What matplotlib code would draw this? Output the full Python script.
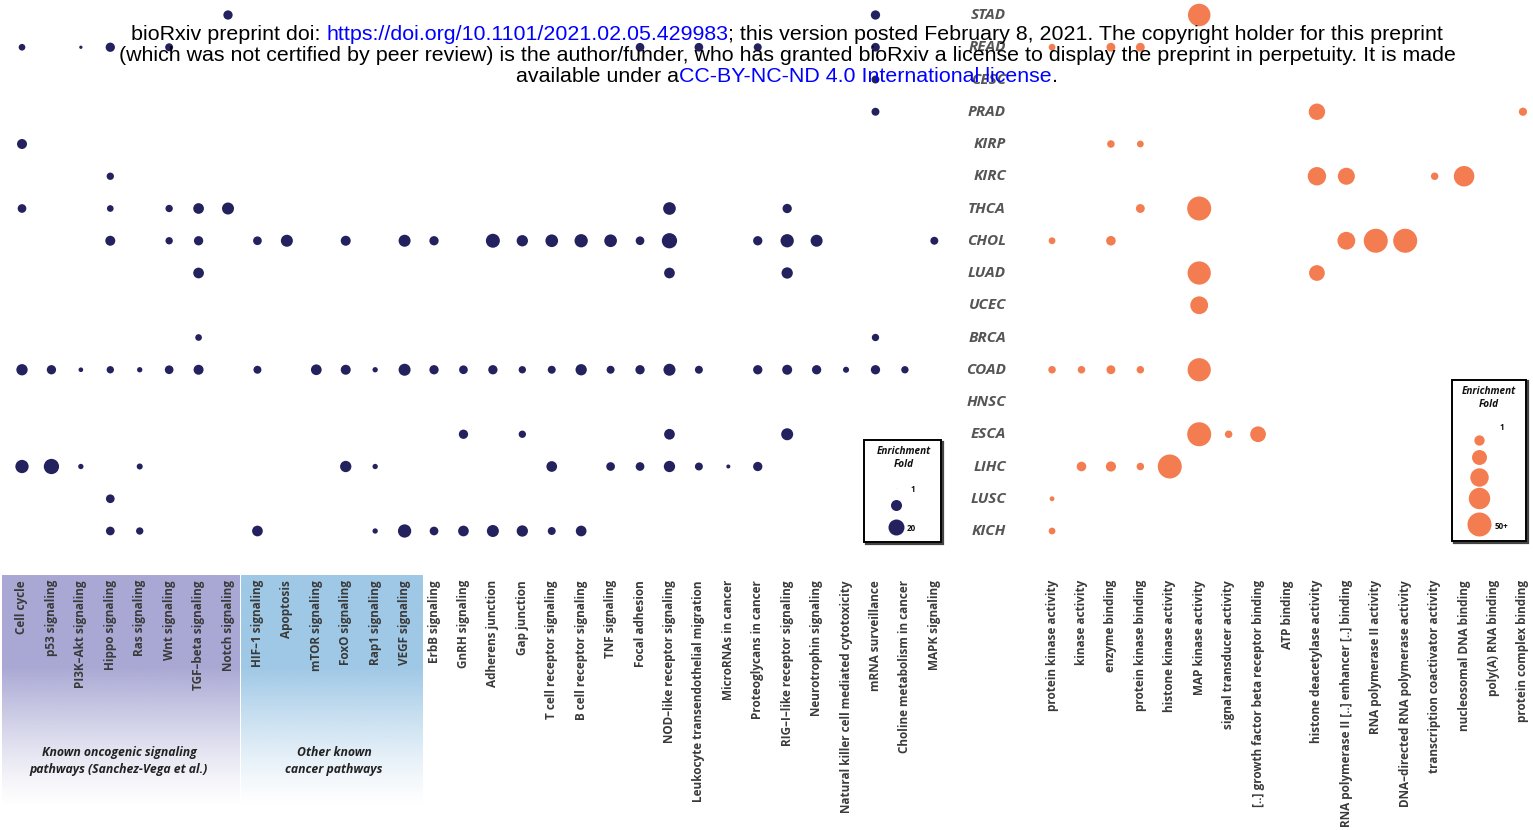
import matplotlib
matplotlib.use("Agg")
import matplotlib.pyplot as plt
import matplotlib.colors as mcolors
from matplotlib.patches import Rectangle
import numpy as np

# ---------------- data ----------------
cancers = ["STAD", "READ", "CESC", "PRAD", "KIRP", "KIRC", "THCA", "CHOL", "LUAD",
           "UCEC", "BRCA", "COAD", "HNSC", "ESCA", "LIHC", "LUSC", "KICH"]

pathways = ["Cell cycle", "p53 signaling", "PI3K–Akt signaling", "Hippo signaling",
            "Ras signaling", "Wnt signaling", "TGF–beta signaling", "Notch signaling",
            "HIF–1 signaling", "Apoptosis", "mTOR signaling", "FoxO signaling",
            "Rap1 signaling", "VEGF signaling", "ErbB signaling", "GnRH signaling",
            "Adherens junction", "Gap junction", "T cell receptor signaling",
            "B cell receptor signaling", "TNF signaling", "Focal adhesion",
            "NOD–like receptor signaling", "Leukocyte transendothelial migration",
            "MicroRNAs in cancer", "Proteoglycans in cancer", "RIG–I–like receptor signaling",
            "Neurotrophin signaling", "Natural killer cell mediated cytotoxicity",
            "mRNA surveillance", "Choline metabolism in cancer", "MAPK signaling"]

go_terms = ["protein kinase activity", "kinase activity", "enzyme binding",
            "protein kinase binding", "histone kinase activity", "MAP kinase activity",
            "signal transducer activity", "[..] growth factor beta receptor binding",
            "ATP binding", "histone deacetylase activity",
            "RNA polymerase II [..] enhancer [..] binding", "RNA polymerase II activity",
            "DNA–directed RNA polymerase activity", "transcription coactivator activity",
            "nucleosomal DNA binding", "poly(A) RNA binding", "protein complex binding"]

# (cancer, pathway, enrichment fold)
pathway_hits = [
    ("STAD", "Notch signaling", 7.4), ("STAD", "mRNA surveillance", 7.4),
    ("READ", "Cell cycle", 4.3), ("READ", "PI3K–Akt signaling", 1.8), ("READ", "Hippo signaling", 7.4),
    ("READ", "Wnt signaling", 5.7), ("READ", "Focal adhesion", 6.6),
    ("READ", "Leukocyte transendothelial migration", 6.6), ("READ", "Proteoglycans in cancer", 5.7),
    ("READ", "mRNA surveillance", 6.6),
    ("CESC", "mRNA surveillance", 5.7),
    ("PRAD", "mRNA surveillance", 5.7),
    ("KIRP", "Cell cycle", 8.4),
    ("KIRC", "Hippo signaling", 5.0),
    ("THCA", "Cell cycle", 6.6), ("THCA", "Hippo signaling", 4.3), ("THCA", "Wnt signaling", 5.0),
    ("THCA", "TGF–beta signaling", 9.5), ("THCA", "Notch signaling", 11.7),
    ("THCA", "NOD–like receptor signaling", 12.9), ("THCA", "RIG–I–like receptor signaling", 7.4),
    ("CHOL", "Hippo signaling", 8.4), ("CHOL", "Wnt signaling", 5.0), ("CHOL", "TGF–beta signaling", 7.4),
    ("CHOL", "HIF–1 signaling", 6.6), ("CHOL", "Apoptosis", 11.7), ("CHOL", "FoxO signaling", 8.4),
    ("CHOL", "VEGF signaling", 11.7), ("CHOL", "ErbB signaling", 7.4), ("CHOL", "Adherens junction", 15.5),
    ("CHOL", "Gap junction", 10.5), ("CHOL", "T cell receptor signaling", 12.9),
    ("CHOL", "B cell receptor signaling", 14.1), ("CHOL", "TNF signaling", 12.9),
    ("CHOL", "Focal adhesion", 6.6), ("CHOL", "NOD–like receptor signaling", 18.3),
    ("CHOL", "Proteoglycans in cancer", 7.4), ("CHOL", "RIG–I–like receptor signaling", 14.1),
    ("CHOL", "Neurotrophin signaling", 11.7), ("CHOL", "MAPK signaling", 5.7),
    ("LUAD", "TGF–beta signaling", 9.5), ("LUAD", "NOD–like receptor signaling", 9.5),
    ("LUAD", "RIG–I–like receptor signaling", 10.5),
    ("BRCA", "TGF–beta signaling", 4.3), ("BRCA", "mRNA surveillance", 5.0),
    ("COAD", "Cell cycle", 10.5), ("COAD", "p53 signaling", 7.4), ("COAD", "PI3K–Akt signaling", 2.6),
    ("COAD", "Hippo signaling", 5.0), ("COAD", "Ras signaling", 3.1), ("COAD", "Wnt signaling", 6.6),
    ("COAD", "TGF–beta signaling", 8.4), ("COAD", "HIF–1 signaling", 5.7), ("COAD", "mTOR signaling", 9.5),
    ("COAD", "FoxO signaling", 8.4), ("COAD", "Rap1 signaling", 3.1), ("COAD", "VEGF signaling", 11.7),
    ("COAD", "ErbB signaling", 7.4), ("COAD", "GnRH signaling", 6.6), ("COAD", "Adherens junction", 7.4),
    ("COAD", "Gap junction", 5.0), ("COAD", "T cell receptor signaling", 5.7),
    ("COAD", "B cell receptor signaling", 10.5), ("COAD", "TNF signaling", 5.7),
    ("COAD", "Focal adhesion", 7.4), ("COAD", "NOD–like receptor signaling", 11.7),
    ("COAD", "Leukocyte transendothelial migration", 5.7), ("COAD", "Proteoglycans in cancer", 7.4),
    ("COAD", "RIG–I–like receptor signaling", 8.4), ("COAD", "Neurotrophin signaling", 7.4),
    ("COAD", "Natural killer cell mediated cytotoxicity", 3.7), ("COAD", "mRNA surveillance", 7.4),
    ("COAD", "Choline metabolism in cancer", 5.0),
    ("ESCA", "GnRH signaling", 7.4), ("ESCA", "Gap junction", 5.0),
    ("ESCA", "NOD–like receptor signaling", 9.5), ("ESCA", "RIG–I–like receptor signaling", 11.7),
    ("LIHC", "Cell cycle", 14.1), ("LIHC", "p53 signaling", 18.3), ("LIHC", "PI3K–Akt signaling", 3.1),
    ("LIHC", "Ras signaling", 3.7), ("LIHC", "FoxO signaling", 10.5), ("LIHC", "Rap1 signaling", 3.1),
    ("LIHC", "T cell receptor signaling", 9.5), ("LIHC", "TNF signaling", 6.6),
    ("LIHC", "Focal adhesion", 6.6), ("LIHC", "NOD–like receptor signaling", 10.5),
    ("LIHC", "Leukocyte transendothelial migration", 5.7), ("LIHC", "MicroRNAs in cancer", 2.2),
    ("LIHC", "Proteoglycans in cancer", 7.4),
    ("LUSC", "Hippo signaling", 6.6),
    ("KICH", "Hippo signaling", 6.6), ("KICH", "Ras signaling", 5.0), ("KICH", "HIF–1 signaling", 9.5),
    ("KICH", "Rap1 signaling", 3.1), ("KICH", "VEGF signaling", 14.1), ("KICH", "ErbB signaling", 6.6),
    ("KICH", "GnRH signaling", 9.5), ("KICH", "Adherens junction", 11.7), ("KICH", "Gap junction", 10.5),
    ("KICH", "T cell receptor signaling", 5.7), ("KICH", "B cell receptor signaling", 9.5),
]

# (cancer, GO term, enrichment fold)
go_hits = [
    ("STAD", "MAP kinase activity", 44),
    ("READ", "protein kinase activity", 4.9), ("READ", "enzyme binding", 7.7),
    ("READ", "protein kinase binding", 7.7),
    ("PRAD", "histone deacetylase activity", 23.9), ("PRAD", "protein complex binding", 6.7),
    ("KIRP", "enzyme binding", 5.8), ("KIRP", "protein kinase binding", 4.9),
    ("KIRC", "histone deacetylase activity", 29.8),
    ("KIRC", "RNA polymerase II [..] enhancer [..] binding", 25.6),
    ("KIRC", "transcription coactivator activity", 5.8), ("KIRC", "nucleosomal DNA binding", 36.7),
    ("THCA", "protein kinase binding", 7.7), ("THCA", "MAP kinase activity", 52),
    ("CHOL", "protein kinase activity", 4.9), ("CHOL", "enzyme binding", 8.8),
    ("CHOL", "RNA polymerase II [..] enhancer [..] binding", 28),
    ("CHOL", "RNA polymerase II activity", 52), ("CHOL", "DNA–directed RNA polymerase activity", 50),
    ("LUAD", "MAP kinase activity", 46.8), ("LUAD", "histone deacetylase activity", 22),
    ("UCEC", "MAP kinase activity", 28),
    ("COAD", "protein kinase activity", 5.8), ("COAD", "kinase activity", 5.8),
    ("COAD", "enzyme binding", 7.7), ("COAD", "protein kinase binding", 5.8),
    ("COAD", "MAP kinase activity", 46.8),
    ("ESCA", "MAP kinase activity", 52), ("ESCA", "signal transducer activity", 5.8),
    ("ESCA", "[..] growth factor beta receptor binding", 22),
    ("LIHC", "kinase activity", 8.8), ("LIHC", "enzyme binding", 9.8),
    ("LIHC", "protein kinase binding", 5.8), ("LIHC", "histone kinase activity", 52),
    ("LUSC", "protein kinase activity", 3.0),
    ("KICH", "protein kinase activity", 4.9),
]

navy_legend_vals = [1, 10, 20]
navy_legend_text = ["1", "", "20"]
orange_legend_vals = [1, 10, 20, 30, 40, 50]
orange_legend_text = ["1", "", "", "", "", "50+"]

group_labels = ["Known oncogenic signaling\npathways (Sanchez-Vega et al.)",
                "Other known\ncancer pathways"]

# ---------------- style ----------------
W, H = 1533, 830
NAVY = "#23215e"
ORANGE = "#f37d51"
LABEL_C = "#3a3a3a"
ROW_C = "#555555"
FONT = "Open Sans"


def d_navy(v):
    return 16.0 * np.sqrt(max(v - 1, 0.003) / 19.0)


def d_orange(v):
    return 24.0 * np.sqrt(max(min(v, 50) - 1, 0.003) / 49.0)


def s_of(dpx):
    return (dpx * 72.0 / 100.0) ** 2


fig = plt.figure(figsize=(W / 100, H / 100), dpi=100)

# background (gradient boxes)
bg = fig.add_axes([0, 0, 1, 1], zorder=0)
bg.axis("off")


def grad_box(x0, x1, color):
    y0, ysolid, y1 = 576, 668, 806
    ys = np.linspace(y0, y1, 400)
    alpha = np.clip((y1 - ys) / (y1 - ysolid), 0, 1) ** 1.25
    rgba = np.zeros((400, 1, 4))
    rgba[:, 0, :3] = mcolors.to_rgb(color)
    rgba[:, 0, 3] = alpha
    bg.imshow(rgba, extent=(x0, x1, y1, y0), aspect="auto", interpolation="bilinear")


grad_box(2, 239.5, "#a9a8d4")
grad_box(241, 423, "#9fc8e6")
bg.set_xlim(0, W)
bg.set_ylim(H, 0)
bg.text(119, 761, group_labels[0], ha="center", va="center", fontsize=8.8, family=FONT,
        fontweight="bold", style="italic", color="#222222", linespacing=1.4)
bg.text(334, 761, group_labels[1], ha="center", va="center", fontsize=8.8, family=FONT,
        fontweight="bold", style="italic", color="#222222", linespacing=1.4)

# main axes: x index = column, y index = cancer row
ax_bottom_px = 577
ax = fig.add_axes([0, (H - ax_bottom_px) / H, 1, ax_bottom_px / H], zorder=2)
ax.patch.set_alpha(0)
col_step, x0_px = 29.43, 22.0
row_step, y0_px = 32.25, 15.0
ax.set_xlim((0 - x0_px) / col_step, (W - x0_px) / col_step)
ax.set_ylim((ax_bottom_px - y0_px) / row_step, (0 - y0_px) / row_step)
for sp in ax.spines.values():
    sp.set_visible(False)

path_x = {p: i for i, p in enumerate(pathways)}
go_x = {g: 35 + i for i, g in enumerate(go_terms)}
row_y = {c: i for i, c in enumerate(cancers)}

ax.scatter([path_x[p] for _, p, _ in pathway_hits], [row_y[c] for c, _, _ in pathway_hits],
           s=[s_of(d_navy(v)) for _, _, v in pathway_hits], color=NAVY, linewidths=0, zorder=3)
ax.scatter([go_x[g] for _, g, _ in go_hits], [row_y[c] for c, _, _ in go_hits],
           s=[s_of(d_orange(v)) for _, _, v in go_hits], color=ORANGE, linewidths=0, zorder=3)

ax.set_xticks(list(path_x.values()) + list(go_x.values()))
ax.set_xticklabels(pathways + go_terms, rotation=90, va="top", ha="center",
                   fontsize=8.5, family=FONT, fontweight="bold", color=LABEL_C)
ax.tick_params(axis="x", length=0, pad=2.2)
ax.set_yticks([])

row_label_x = (1006 - x0_px) / col_step
for c, i in row_y.items():
    ax.text(row_label_x, i, c, ha="right", va="center", fontsize=11, family=FONT,
            fontweight="bold", style="italic", color=ROW_C)

# overlay: legends + header
ov = fig.add_axes([0, 0, 1, 1], zorder=5)
ov.set_xlim(0, W)
ov.set_ylim(H, 0)
ov.axis("off")


def legend_box(x0, y0, x1, y1):
    ov.add_patch(Rectangle((x0 + 1.5, y0 + 1.5), x1 - x0, y1 - y0, facecolor="none",
                           edgecolor="#444444", lw=1.6, zorder=1))
    ov.add_patch(Rectangle((x0, y0), x1 - x0, y1 - y0, facecolor="white",
                           edgecolor="black", lw=1.4, zorder=2))


legend_box(864, 440, 941, 542)
ov.text(903.5, 458, "Enrichment\nFold", ha="center", va="center", fontsize=7.2, family=FONT,
        fontweight="bold", style="italic", color="#111111", linespacing=1.25, zorder=3)
for v, t, y in zip(navy_legend_vals, navy_legend_text, [488, 505, 527]):
    ov.scatter([896], [y], s=s_of(d_navy(v)), color=NAVY, linewidths=0, zorder=3)
    if t:
        ov.text(911 if t == "1" else 907, y + 1, t, ha="left", va="center", fontsize=5.8,
                family=FONT, fontweight="bold", color="#111111", zorder=3)

legend_box(1452, 380, 1526, 541)
ov.text(1489, 398, "Enrichment\nFold", ha="center", va="center", fontsize=7.2, family=FONT,
        fontweight="bold", style="italic", color="#111111", linespacing=1.25, zorder=3)
for v, t, y in zip(orange_legend_vals, orange_legend_text, [425, 440, 457, 477, 498, 524]):
    ov.scatter([1479], [y], s=s_of(d_orange(v)), color=ORANGE, linewidths=0, zorder=3)
    if t:
        ov.text(1500 if t == "1" else 1495, y + 2, t, ha="left", va="center", fontsize=5.8,
                family=FONT, fontweight="bold", color="#111111", zorder=3)

# bioRxiv header
HF = "Liberation Sans"
header = [
    [("bioRxiv preprint doi: ", "black"), ("https://doi.org/10.1101/2021.02.05.429983", "#0000ff"),
     ("; this version posted February 8, 2021. The copyright holder for this preprint", "black")],
    [("(which was not certified by peer review) is the author/funder, who has granted bioRxiv a "
      "license to display the preprint in perpetuity. It is made", "black")],
    [("available under a", "black"), ("CC-BY-NC-ND 4.0 International license", "#0000ff"),
     (".", "black")],
]
renderer = fig.canvas.get_renderer()


def text_w(s, fs):
    t = ov.text(0, 0, s, fontsize=fs, family=HF)
    w = t.get_window_extent(renderer).width
    t.remove()
    return w


full1 = "".join(s for s, _ in header[0])
hfs = 10 * 1310.0 / text_w(full1, 10)
cx = 787
for line, y in zip(header, [34, 55.5, 77]):
    full = "".join(s for s, _ in line)
    total = text_w(full, hfs)
    bar = text_w("|", hfs)
    x_start = cx - total / 2
    prefix = ""
    for s, col in line:
        off = text_w(prefix + "|", hfs) - bar if prefix else 0
        ov.text(x_start + off, y, s, fontsize=hfs, family=HF, color=col,
                ha="left", va="center", zorder=10)
        prefix += s

fig.savefig("out.png", dpi=100)
